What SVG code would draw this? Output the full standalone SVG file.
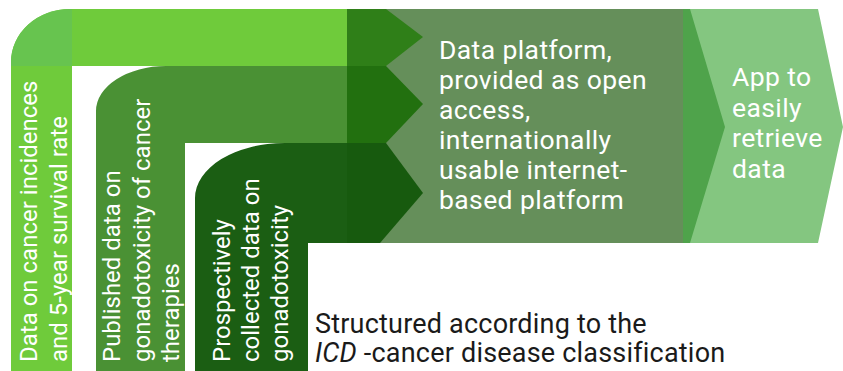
<svg xmlns="http://www.w3.org/2000/svg" width="843" height="371" viewBox="0 0 843 371">
<style>
.w{fill:#ffffff;font-family:Roboto,"Liberation Sans",sans-serif}
.big{font-size:26.5px;letter-spacing:0.4px}
.rot{font-size:24px}
.k{fill:#1a1a1a;font-family:Roboto,"Liberation Sans",sans-serif;font-size:27px;letter-spacing:0.2px}
</style>
<rect width="843" height="371" fill="#ffffff"/>
<g id="platform">
<rect x="380" y="9" width="305" height="234" fill="#658f5a"/>
<text class="w big"><tspan x="439" y="59">Data platform,</tspan><tspan x="439" y="89">provided as open</tspan><tspan x="439" y="119">access,</tspan><tspan x="439" y="149">internationally</tspan><tspan x="439" y="179">usable internet-</tspan><tspan x="439" y="209">based platform</tspan></text>
</g>
<g id="app">
<rect x="683" y="9" width="50" height="234" fill="#4fa34b"/>
<polygon points="690,9 818,9 843,127 818,243 690,243 725,127" fill="#84c680"/>
<text class="w big"><tspan x="732" y="86">App to</tspan><tspan x="732" y="116.5">easily</tspan><tspan x="732" y="147">retrieve</tspan><tspan x="732" y="177.5">data</tspan></text>
</g>
<g id="source1">
<path d="M11 371 V62 A59 53 0 0 1 70 9 H347 V66 H72 V371 Z" fill="#6fcb3b"/>
<path d="M11 66 V62 A59 53 0 0 1 70 9 H72 V66 Z" fill="#67c44f"/>
<path d="M347 9 H386 L423 37 L386 66 H347 Z" fill="#2f7f18"/>
<text class="w rot" transform="translate(37,362) rotate(-90)"><tspan x="0" y="0">Data on cancer incidences</tspan><tspan x="0" y="30">and 5-year survival rate</tspan></text>
</g>
<g id="source2">
<path d="M96 371 V111 A70 45 0 0 1 166 66 H347 V143 H185 V371 Z" fill="#4a9134"/>
<path d="M347 66 H386 L423 104 L386 143 H347 Z" fill="#22700f"/>
<text class="w rot" transform="translate(120,362) rotate(-90)"><tspan x="0" y="0">Published data on</tspan><tspan x="0" y="29.5">gonadotoxicity of cancer</tspan><tspan x="0" y="59">therapies</tspan></text>
</g>
<g id="source3">
<path d="M195 371 V198 A90 55 0 0 1 285 143 H347 V243 H308 V371 Z" fill="#1b5e13"/>
<path d="M347 143 H386 L423 193 L380 243 H347 Z" fill="#175a0e"/>
<text class="w rot" transform="translate(230,362) rotate(-90)"><tspan x="0" y="0">Prospectively</tspan><tspan x="0" y="29">collected data on</tspan><tspan x="0" y="58">gonadotoxicity</tspan></text>
</g>
<g id="connectors"></g>
<g id="note">
<text class="k"><tspan x="315" y="333">Structured according to the</tspan><tspan x="315" y="362"><tspan font-style="italic">ICD</tspan> -cancer disease classification</tspan></text>
</g>
</svg>
